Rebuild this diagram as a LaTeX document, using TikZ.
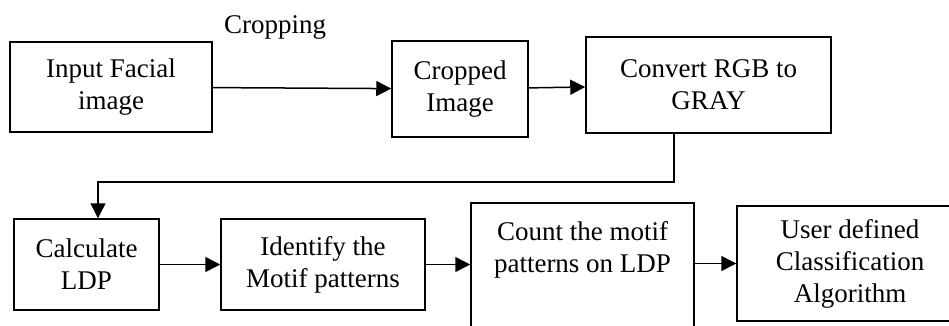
\documentclass[tikz,border=0pt]{standalone}
\usepackage{fontspec}
\setmainfont{Liberation Serif}
\usetikzlibrary{arrows.meta}
\tikzset{
  block/.style={draw, line width=1.5pt, align=center, inner sep=0pt},
  arr/.style={line width=1.5pt, -{Triangle[length=15pt,width=15pt]}}
}
\begin{document}
\begin{tikzpicture}[x=1pt, y=-1pt, font=\fontsize{27}{32}\selectfont]
      \clip (0,0) rectangle (949,325);
      \node[block, minimum width=202pt, minimum height=90pt] (input) at (111,87) {Input Facial\\image};
      \node[block, minimum width=136pt, minimum height=96pt] (crop) at (460,89) {Cropped\\Image};
      \node[block, minimum width=245pt, minimum height=96pt] (gray) at (708.5,85) {Convert RGB to\\GRAY};
      \node[block, minimum width=145pt, minimum height=91pt] (ldp) at (86.5,264.5) {Calculate\\LDP};
      \node[block, minimum width=204pt, minimum height=91pt] (motif) at (323,264.5) {Identify the\\Motif patterns};
      \node[block, minimum width=223pt, inner ysep=19pt, text depth=120pt, anchor=north] (count) at (582.5,202) {Count the motif\\patterns on LDP};
      \node[block, minimum width=226pt, minimum height=115pt] (classify) at (850,263.5) {User defined\\Classification\\Algorithm};
      \node[anchor=base] (cropping) at (275,33) {Cropping};
      \coordinate (turn) at (98,182);
      % connectors
      \draw[arr] (input) -- (crop);
      \draw[arr] (crop) -- (gray);
      \draw[arr] ([xshift=-34.5pt]gray.south) |- (turn) -- (turn |- ldp.north);
      \draw[arr] (ldp) -- (motif);
      \draw[arr] (motif.east) -- (motif.east -| count.west);
      \draw[arr] (classify.west -| count.east) -- (classify.west);
    \end{tikzpicture}
\end{document}
